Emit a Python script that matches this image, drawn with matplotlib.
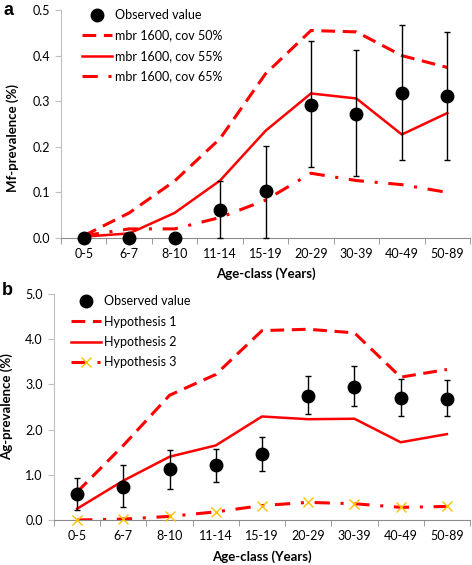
import numpy as np
import matplotlib
matplotlib.use('Agg')
import matplotlib.pyplot as plt
from matplotlib.lines import Line2D

plt.rcParams['font.family'] = ['Lato', 'DejaVu Sans']

ages = ['0-5', '6-7', '8-10', '11-14', '15-19', '20-29', '30-39', '40-49', '50-89']

# panel a: Mf-prevalence
mf_obs = [0.0, 0.0, 0.0, 0.061, 0.102, 0.292, 0.273, 0.318, 0.311]
mf_lo = [0.0, 0.0, 0.0, 0.0, 0.0, 0.155, 0.137, 0.172, 0.172]
mf_hi = [0.0, 0.0, 0.0, 0.124, 0.201, 0.431, 0.412, 0.467, 0.451]
mf_cov50 = [0.005, 0.055, 0.125, 0.218, 0.36, 0.455, 0.452, 0.40, 0.374]
mf_cov55 = [0.003, 0.010, 0.055, 0.126, 0.235, 0.317, 0.306, 0.227, 0.274]
mf_cov65 = [0.005, 0.020, 0.020, 0.045, 0.083, 0.142, 0.126, 0.117, 0.100]

# panel b: Ag-prevalence
ag_obs = [0.57, 0.74, 1.12, 1.22, 1.46, 2.75, 2.94, 2.71, 2.68]
ag_lo = [0.22, 0.29, 0.69, 0.84, 1.09, 2.35, 2.52, 2.29, 2.29]
ag_hi = [0.93, 1.22, 1.55, 1.58, 1.84, 3.19, 3.41, 3.13, 3.10]
ag_hyp1 = [0.62, 1.65, 2.76, 3.22, 4.19, 4.22, 4.14, 3.16, 3.33]
ag_hyp2 = [0.25, 0.87, 1.40, 1.65, 2.29, 2.23, 2.24, 1.72, 1.90]
ag_hyp3 = [0.0, 0.02, 0.08, 0.18, 0.32, 0.39, 0.36, 0.28, 0.30]

red = '#FF0000'
x_col = '#FFC000'
axis_grey = '#BFBFBF'
x = np.arange(len(ages))
W, H = 472, 565

fig = plt.figure(figsize=(4.72, 5.65), dpi=100)
# axes placed in pixel terms to follow the reference
ax_a = fig.add_axes([61 / W, 1 - 238 / H, 409 / W, 228 / H])
ax_b = fig.add_axes([54 / W, 1 - 520 / H, 416 / W, 226 / H])

dash = (4.5, 2.5)
dashdot = (5, 3.5, 1, 3.5)


def style_axis(ax, ymax, step):
    ax.set_xlim(-0.5, len(ages) - 0.5)
    ax.set_ylim(0, ymax)
    ticks = np.arange(0, ymax + step / 2, step)
    ax.set_yticks(ticks)
    ax.set_yticklabels(['{:.1f}'.format(v) for v in ticks])
    ax.set_xticks(x)
    ax.set_xticklabels(ages)
    ax.set_xticks(np.arange(-0.5, len(ages), 1), minor=True)
    ax.tick_params(axis='x', which='major', length=0, pad=7, labelsize=9)
    ax.tick_params(axis='x', which='minor', length=4, color='#8C8C8C', direction='out')
    ax.tick_params(axis='y', length=4, color=axis_grey, labelsize=9, pad=4)
    for side in ['top', 'right']:
        ax.spines[side].set_visible(False)
    ax.spines['left'].set_color(axis_grey)
    ax.spines['bottom'].set_color('#8C8C8C')


def draw_obs(ax, obs, lo, hi):
    obs = np.array(obs)
    yerr = [obs - np.array(lo), np.array(hi) - obs]
    ax.errorbar(x, obs, yerr=yerr, fmt='o', color='black', ms=9, ecolor='black',
                elinewidth=1.0, capsize=2.5, capthick=1.0, zorder=5, clip_on=False)


def add_legend(ax, handles, labels, left_px, top_px):
    ax.legend(handles, labels, loc='upper left',
              bbox_to_anchor=(left_px / W, 1 - top_px / H), bbox_transform=fig.transFigure,
              frameon=False, fontsize=9, borderpad=0, borderaxespad=0,
              handlelength=2.4, handletextpad=0.25, labelspacing=0.68)


# panel a
ax_a.plot(x, mf_cov50, color=red, lw=2.2, dashes=dash, zorder=3)
ax_a.plot(x, mf_cov55, color=red, lw=1.8, zorder=3)
ax_a.plot(x, mf_cov65, color=red, lw=2.2, dashes=dashdot, zorder=3)
draw_obs(ax_a, mf_obs, mf_lo, mf_hi)
style_axis(ax_a, 0.5, 0.1)
ax_a.set_xlabel('Age-class (Years)', fontweight='bold', fontsize=9.5)
ax_a.xaxis.set_label_coords(0.5, -29 / 228)
ax_a.set_ylabel('Mf-prevalence (%)', fontweight='bold', fontsize=9.5)
ax_a.yaxis.set_label_coords(-42 / 409, 0.44)

handles_a = [
    Line2D([], [], marker='o', color='black', ls='none', ms=9),
    Line2D([], [], color=red, lw=2.2, dashes=dash),
    Line2D([], [], color=red, lw=1.8),
    Line2D([], [], color=red, lw=2.2, dashes=dashdot),
]
add_legend(ax_a, handles_a, ['Observed value', 'mbr 1600, cov 50%', 'mbr 1600, cov 55%',
                             'mbr 1600, cov 65%'], 82, 9)

# panel b
ax_b.plot(x, ag_hyp1, color=red, lw=2.2, dashes=dash, zorder=3)
ax_b.plot(x, ag_hyp2, color=red, lw=1.8, zorder=3)
ax_b.plot(x, ag_hyp3, color=red, lw=2.2, dashes=dashdot, zorder=3)
ax_b.plot(x, ag_hyp3, ls='none', marker='x', mec=x_col, mew=1.0, ms=7, zorder=4,
          clip_on=False)
draw_obs(ax_b, ag_obs, ag_lo, ag_hi)
style_axis(ax_b, 5.0, 1.0)
ax_b.set_xlabel('Age-class (Years)', fontweight='bold', fontsize=9.5)
ax_b.xaxis.set_label_coords(0.5, -30 / 226)
ax_b.set_ylabel('Ag-prevalence (%)', fontweight='bold', fontsize=9.5)
ax_b.yaxis.set_label_coords(-41 / 416, 0.5)

handles_b = [
    Line2D([], [], marker='o', color='black', ls='none', ms=9),
    Line2D([], [], color=red, lw=2.2, dashes=dash),
    Line2D([], [], color=red, lw=1.8),
    Line2D([], [], color=red, lw=2.2, dashes=dashdot, marker='x',
           mec=x_col, mew=1.0, ms=7, markevery=[1]),
]
add_legend(ax_b, handles_b, ['Observed value', 'Hypothesis 1', 'Hypothesis 2', 'Hypothesis 3'],
           71, 295)

fig.text(3 / W, 1 - 2 / H, 'a', fontsize=13, fontweight='bold', va='top', ha='left',
         family='Liberation Sans')
fig.text(2 / W, 1 - 282 / H, 'b', fontsize=13, fontweight='bold', va='top', ha='left',
         family='Liberation Sans')

fig.savefig('out.png', dpi=100)
